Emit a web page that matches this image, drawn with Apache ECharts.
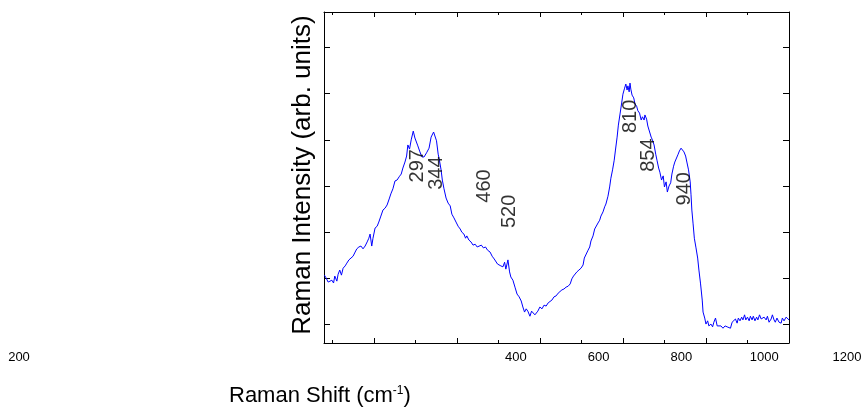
<!DOCTYPE html>
<html>
<head>
<meta charset="utf-8">
<script src="https://cdn.jsdelivr.net/npm/echarts@6/dist/echarts.min.js"></script>
<style>
  html, body { margin: 0; padding: 0; background: #fff; }
  #chart { width: 862px; height: 410px; }
</style>
</head>
<body>
<div id="chart"></div>
<script>
// Raman spectrum: shift (cm-1) and intensity (arb. units)
const shiftCm = [
  81,85,90,94,99,103,106,111,114,118,
  122,126,131,135,140,145,150,155,159,164,
  169,174,179,184,188,191,195,198,203,208,
  212,217,222,227,232,237,241,246,251,256,
  261,266,270,275,279,282,286,290,295,299,
  303,306,311,316,321,327,333,338,344,347,
  351,355,358,362,365,369,374,379,384,388,
  393,398,403,408,412,417,421,424,429,434,
  439,444,449,453,459,464,469,474,480,485,
  490,494,498,502,506,511,515,518,523,527,
  530,535,540,545,550,555,559,563,567,571,
  576,580,583,588,592,595,600,605,610,615,
  620,624,629,634,639,644,648,653,658,663,
  668,673,677,681,685,689,694,699,704,707,
  711,716,720,723,728,732,735,740,744,747,
  752,756,759,764,768,771,775,779,782,786,
  789,793,797,800,804,807,810,812,815,817,
  819,822,826,829,833,836,840,844,847,851,
  853,857,860,864,868,871,875,879,882,886,
  889,893,897,900,904,907,911,915,918,922,
  925,929,933,936,940,944,947,951,954,958,
  962,964,966,969,972,976,980,983,987,991,
  993,997,1000,1004,1007,1012,1016,1019,1023,1027,
  1031,1036,1041,1046,1051,1055,1059,1063,1067,1071,
  1075,1078,1082,1086,1089,1093,1096,1100,1104,1107,
  1111,1114,1118,1122,1125,1129,1133,1136,1140,1145,
  1148,1152,1157,1160,1164,1167,1171,1176,1181,1184,
  1188,1193,1197,1200
];
const intensity = [
  107,101,92,90,96,90,105,94,109,118,
  107,122,127,133,140,144,148,157,164,168,
  170,164,170,179,187,196,170,187,209,213,
  222,235,248,252,259,272,283,294,311,313,
  320,326,339,352,365,389,380,400,419,404,
  408,387,374,363,363,372,382,406,417,415,
  398,369,356,335,313,294,274,263,257,239,
  231,222,213,207,200,196,187,192,183,179,
  172,174,168,170,172,166,168,161,157,148,
  142,140,131,135,127,125,135,120,140,114,
  103,96,81,66,60,51,38,27,34,29,
  18,29,25,21,23,29,38,34,42,40,
  47,49,53,60,62,68,70,75,77,81,
  83,88,99,105,105,114,118,122,129,144,
  148,161,168,181,192,207,209,220,226,235,
  244,255,261,278,298,317,335,356,378,406,
  432,456,480,499,512,521,508,517,504,523,
  510,497,491,478,473,463,458,443,450,443,
  454,445,430,426,406,400,389,369,356,339,
  330,313,322,298,309,287,300,307,326,343,
  352,356,369,376,382,378,374,365,352,335,
  309,281,248,218,187,166,144,118,88,53,
  27,14,1,8,-3,1,-5,5,14,-3,
  -5,-3,-8,-3,-5,-1,-8,5,1,12,
  3,14,8,16,10,21,10,16,8,18,
  10,18,8,16,10,21,12,8,16,10,
  18,5,12,21,10,5,14,5,3,14,
  8,16,14,10
];

// Assigned band positions and the height at which each tag sits
const peakPositions = [297, 344, 460, 520, 810, 854, 940];
const peakTagHeights = [344, 328, 300, 245, 451, 367, 294];

// Shift axis tick labels as printed under the frame
const shiftTickLabels = ['200', '', '', '', '', '', '400', '600', '800', '1000', '1200'];
const majorShiftTicks = [200, 400, 600, 800, 1000, 1200];
const minorShiftTicks = [100, 300, 500, 700, 900, 1100];
const intensityTicks = [0, 100, 200, 300, 400, 500, 600];

const FONT = "'Liberation Sans', Arial, Helvetica, sans-serif";
const FRAME = '#000';

const plotRect = { left: 324, top: 12, width: 465, height: 331 };
const shiftRange = { min: 80, max: 1200 };
const intensityRange = { min: -40, max: 677 };

function shiftAxis(gridIndex, position, ticks, tickLen, showLine) {
  return {
    type: 'value', gridIndex, position,
    min: shiftRange.min, max: shiftRange.max,
    axisLine: { show: showLine, onZero: false, lineStyle: { color: FRAME, width: 1 } },
    axisTick: { show: true, inside: true, length: tickLen, customValues: ticks,
                lineStyle: { color: FRAME, width: 1 } },
    axisLabel: { show: false },
    splitLine: { show: false }
  };
}
function intensityAxis(gridIndex, position, show) {
  return {
    type: 'value', gridIndex, position,
    min: intensityRange.min, max: intensityRange.max,
    axisLine: { show, onZero: false, lineStyle: { color: FRAME, width: 1 } },
    axisTick: { show, inside: true, length: 6, customValues: intensityTicks,
                lineStyle: { color: FRAME, width: 1 } },
    axisLabel: { show: false },
    splitLine: { show: false }
  };
}

const chart = echarts.init(document.getElementById('chart'), null, { renderer: 'canvas' });

chart.setOption({
  animation: false,
  backgroundColor: '#fff',
  textStyle: { fontFamily: FONT },
  grid: [
    Object.assign({ containLabel: false, outerBoundsMode: 'none' }, plotRect),
    Object.assign({ containLabel: false, outerBoundsMode: 'none' }, plotRect),
    { left: 19, width: 828, top: plotRect.top, height: plotRect.height,
      containLabel: false, outerBoundsMode: 'none' }
  ],
  xAxis: [
    shiftAxis(0, 'bottom', majorShiftTicks, 5, true),
    shiftAxis(0, 'top', majorShiftTicks, 5, true),
    shiftAxis(1, 'bottom', minorShiftTicks, 3, false),
    shiftAxis(1, 'top', minorShiftTicks, 3, false),
    {
      type: 'category', gridIndex: 2, position: 'bottom',
      data: shiftTickLabels, boundaryGap: false,
      axisLine: { show: false }, axisTick: { show: false },
      axisLabel: { show: true, interval: 0, margin: 8, fontSize: 13,
                   color: '#000', fontFamily: FONT },
      splitLine: { show: false }
    }
  ],
  yAxis: [
    intensityAxis(0, 'left', true),
    intensityAxis(0, 'right', true),
    intensityAxis(1, 'left', false),
    intensityAxis(2, 'left', false)
  ],
  graphic: [
    {
      type: 'text', x: 303, y: 175, rotation: Math.PI / 2, silent: true,
      style: {
        text: 'Raman Intensity (arb. units)',
        fontSize: 26, fontFamily: FONT, fill: '#000',
        align: 'center', verticalAlign: 'middle'
      }
    },
    {
      type: 'text', x: 229, y: 396, silent: true,
      style: {
        text: 'Raman Shift (cm{sup|-1})',
        fontSize: 22, fontFamily: FONT, fill: '#000',
        align: 'left', verticalAlign: 'middle',
        rich: { sup: { fontSize: 12, fontFamily: FONT, fill: '#000', verticalAlign: 'top' } }
      }
    }
  ],
  series: [
    {
      type: 'line', xAxisIndex: 0, yAxisIndex: 0,
      data: shiftCm.map((x, i) => [x, intensity[i]]),
      showSymbol: false, symbol: 'none', smooth: false,
      lineStyle: { color: '#0000ff', width: 1 },
      silent: true, z: 3
    },
    {
      type: 'scatter', xAxisIndex: 0, yAxisIndex: 0,
      data: peakPositions.map((x, i) => [x, peakTagHeights[i]]),
      symbolSize: 1, itemStyle: { color: 'rgba(0,0,0,0)' },
      silent: true, z: 4,
      label: {
        show: true, position: 'inside', rotate: 90, offset: [0, 3],
        formatter: p => String(p.value[0]),
        fontSize: 20, fontFamily: FONT, color: '#000'
      }
    }
  ]
});
</script>
</body>
</html>
